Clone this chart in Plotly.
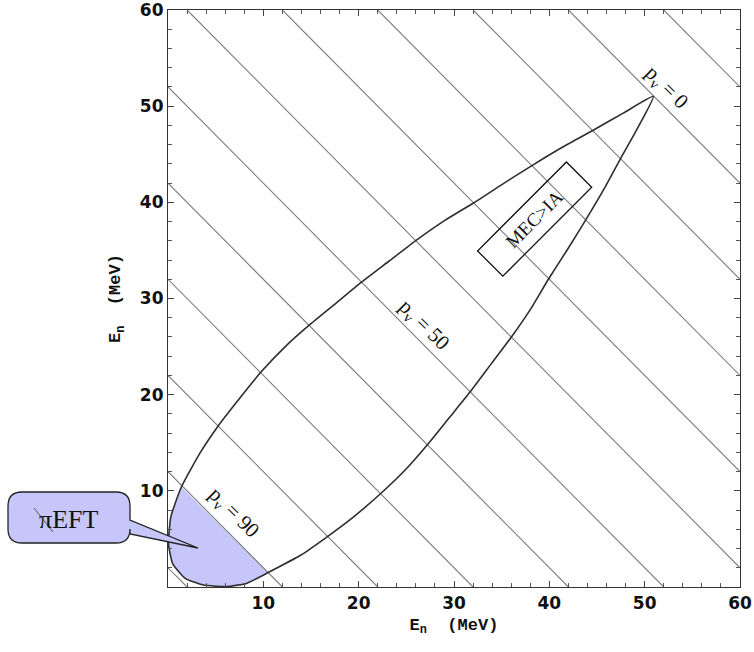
import plotly.graph_objects as go

# ---- data ----
# constant-p_v lines: E1 + E2 = const (MeV)
pv_sums = [2, 12, 22, 32, 42, 52, 62, 72, 82, 92, 102, 112]

# kinematic locus (closed curve), starting at the tip, upper branch first
curve_x = [50.9, 47.8, 44.6, 41.5, 38.3, 35.1, 32.0, 29.0, 26.1, 23.2, 20.3,
           17.6, 14.9, 12.3, 9.8, 7.5, 5.3, 3.4, 1.4, 0.3, 0.05, 0.5, 1.8, 3.7,
           6.3, 8.3, 10.5, 13.9, 16.8, 19.6, 22.4, 25.0, 27.3, 29.5, 31.7, 33.9,
           36.1, 38.1, 39.9, 41.9, 43.9, 45.8, 47.5, 49.3, 50.9]
curve_y = [51.0, 49.3, 47.5, 45.8, 43.9, 41.9, 39.9, 38.1, 36.1, 33.9, 31.7,
           29.5, 27.3, 25.0, 22.4, 19.6, 16.8, 14.0, 10.4, 7.3, 4.5, 2.4, 0.9, 0.2,
           0.05, 0.4, 1.5, 3.3, 5.3, 7.4, 9.8, 12.3, 14.9, 17.6, 20.3, 23.2,
           26.1, 29.0, 32.0, 35.1, 38.3, 41.5, 44.6, 47.8, 51.0]

# pionless-EFT region: below the p_v = 90 line (E1 + E2 <= 12)
eft_limit = 12.1

tick_vals = [10, 20, 30, 40, 50, 60]
pv_labels = ["p<sub>v</sub> = 0", "p<sub>v</sub> = 50", "p<sub>v</sub> = 90"]
pv_label_x = [52.3, 26.8, 6.9]
pv_label_y = [51.9, 27.2, 7.7]

# ---- figure geometry ----
W, H = 754, 652
ML, MR, MT, MB = 168, 14, 10, 65
PW, PH = W - ML - MR, H - MT - MB


def X(px):
    return (px - ML) / PW


def Y(py):
    return (H - MB - py) / PH


fig = go.Figure()

# filled pionless EFT region
fx = [x for x, y in zip(curve_x, curve_y) if x + y <= eft_limit]
fy = [y for x, y in zip(curve_x, curve_y) if x + y <= eft_limit]
fig.add_trace(go.Scatter(x=fx, y=fy, mode="lines", fill="toself",
                         fillcolor="#c6c6fa", line=dict(width=0, shape="spline", smoothing=0.5),
                         hoverinfo="skip", showlegend=False))

# constant p_v lines
lx, ly = [], []
for c in pv_sums:
    x0, x1 = max(0, c - 60), min(60, c)
    lx += [x0, x1, None]
    ly += [c - x0, c - x1, None]
fig.add_trace(go.Scatter(x=lx, y=ly, mode="lines",
                         line=dict(color="#7c7c7c", width=1.1),
                         hoverinfo="skip", showlegend=False))

# kinematic locus
fig.add_trace(go.Scatter(x=curve_x, y=curve_y, mode="lines",
                         line=dict(color="#2e2e2e", width=1.6, shape="spline", smoothing=0.5),
                         hoverinfo="skip", showlegend=False))

serif = "Liberation Serif"
mono = "Liberation Mono"

annotations = []
for t, x, y in zip(pv_labels, pv_label_x, pv_label_y):
    annotations.append(dict(x=x, y=y, xref="x", yref="y", text=t, showarrow=False,
                            textangle=45, font=dict(family=serif, size=21, color="#111")))

annotations.append(dict(x=38.4, y=38.25, xref="x", yref="y", text="MEC&gt;IA",
                        showarrow=False, textangle=-45,
                        font=dict(family=serif, size=19, color="#111"),
                        bordercolor="#111", borderwidth=1.3, borderpad=2,
                        width=120, height=30, bgcolor="rgba(255,255,255,0)"))

annotations.append(dict(x=X(68), y=Y(519), xref="paper", yref="paper", text="πEFT",
                        xanchor="center", yanchor="middle",
                        showarrow=False, font=dict(family=serif, size=26, color="#111")))

# callout bubble (rounded box with pointer)
r = 14
L, R, T, B = 8, 130, 492, 543
path = (
    f"M {X(L + r)},{Y(T)} L {X(R - r)},{Y(T)} Q {X(R)},{Y(T)} {X(R)},{Y(T + r)} "
    f"L {X(R)},{Y(520)} L {X(198)},{Y(548)} L {X(R)},{Y(534)} "
    f"L {X(R)},{Y(B - r)} Q {X(R)},{Y(B)} {X(R - r)},{Y(B)} "
    f"L {X(L + r)},{Y(B)} Q {X(L)},{Y(B)} {X(L)},{Y(B - r)} "
    f"L {X(L)},{Y(T + r)} Q {X(L)},{Y(T)} {X(L + r)},{Y(T)} Z"
)
shapes = [
    dict(type="path", xref="paper", yref="paper", path=path,
         fillcolor="#c6c6fa", line=dict(color="#222", width=1.3), layer="above"),
    dict(type="line", xref="paper", yref="paper", x0=X(34), y0=Y(508), x1=X(53), y1=Y(532),
         line=dict(color="#555", width=1), layer="above"),
]

axis_common = dict(
    range=[0, 60], tickvals=tick_vals, ticks="inside", ticklen=6, tickwidth=1,
    tickcolor="#444", showline=True, linecolor="#333", linewidth=1.2, mirror="ticks",
    showgrid=False, zeroline=False, automargin=False, ticklabeloverflow="allow",
    tickfont=dict(family="DejaVu Sans", size=17, color="#111", weight="bold"),
    minor=dict(dtick=2, ticks="inside", ticklen=4, tickcolor="#555", showgrid=False),
)

fig.update_layout(
    width=W, height=H, margin=dict(l=ML, r=MR, t=MT, b=MB, autoexpand=False),
    paper_bgcolor="white", plot_bgcolor="white", showlegend=False,
    xaxis=dict(**axis_common,
               title=dict(text="E<sub>n</sub>  (MeV)", standoff=6,
                          font=dict(family=mono, size=17, color="#111", weight="bold"))),
    yaxis=dict(**axis_common,
               title=dict(text="E<sub>n</sub>  (MeV)", standoff=14,
                          font=dict(family=mono, size=17, color="#111", weight="bold"))),
    annotations=annotations, shapes=shapes,
)

fig.write_html("out.html")
